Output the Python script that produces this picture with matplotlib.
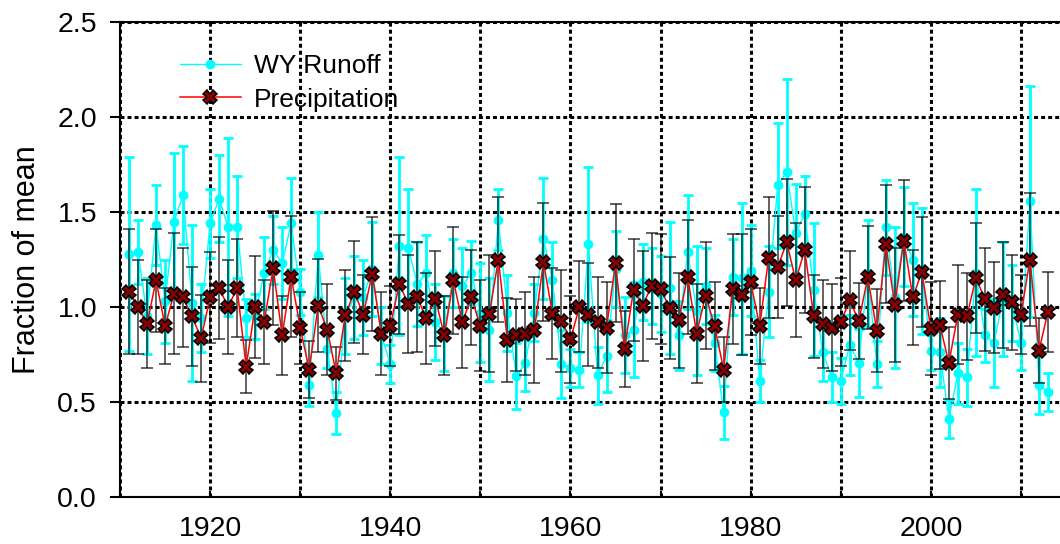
"""Runoff vs precipitation, fraction of mean, with error bars."""

import matplotlib
matplotlib.use("Agg")
import matplotlib.pyplot as plt

plt.rcParams["font.family"] = ["Liberation Sans", "DejaVu Sans"]

years = list(range(1911, 2014))

precip = [1.08, 1.00, 0.91, 1.14, 0.90, 1.07, 1.05, 0.95, 0.835, 1.05,
          1.10, 1.00, 1.10, 0.686, 1.00, 0.92, 1.205, 0.85, 1.16, 0.89,
          0.67, 1.007, 0.88, 0.65, 0.955, 1.08, 0.96, 1.175, 0.86, 0.90,
          1.12, 1.016, 1.05, 0.94, 1.044, 0.85, 1.14, 0.92, 1.05, 0.90,
          0.965, 1.25, 0.825, 0.85, 0.86, 0.88, 1.237, 0.965, 0.925, 0.83,
          1.00, 0.96, 0.92, 0.89, 1.23, 0.78, 1.09, 1.007, 1.11, 1.095,
          0.995, 0.93, 1.16, 0.86, 1.06, 0.90, 0.67, 1.095, 1.065, 1.13,
          0.90, 1.26, 1.21, 1.34, 1.14, 1.30, 0.95, 0.91, 0.89, 0.92,
          1.035, 0.925, 1.156, 0.875, 1.33, 1.01, 1.35, 1.05, 1.186, 0.884,
          0.905, 0.705, 0.96, 0.95, 1.154, 1.04, 0.995, 1.063, 1.025, 0.96,
          1.25, 0.77, 0.974]
precip_err = [0.33, 0.25, 0.23, 0.27, 0.20, 0.32, 0.26, 0.26, 0.23, 0.24,
              0.27, 0.25, 0.26, 0.14, 0.27, 0.22, 0.30, 0.21, 0.32, 0.19,
              0.15, 0.245, 0.24, 0.14, 0.24, 0.27, 0.21, 0.30, 0.22, 0.21,
              0.26, 0.26, 0.29, 0.24, 0.25, 0.21, 0.28, 0.24, 0.25, 0.24,
              0.31, 0.33, 0.22, 0.19, 0.22, 0.28, 0.31, 0.24, 0.27, 0.23,
              0.24, 0.27, 0.24, 0.24, 0.31, 0.20, 0.27, 0.29, 0.28, 0.29,
              0.27, 0.25, 0.30, 0.26, 0.28, 0.23, 0.17, 0.29, 0.32, 0.28,
              0.20, 0.32, 0.27, 0.335, 0.30, 0.33, 0.22, 0.23, 0.23, 0.23,
              0.26, 0.20, 0.27, 0.22, 0.31, 0.30, 0.32, 0.25, 0.29, 0.245,
              0.23, 0.19, 0.26, 0.23, 0.29, 0.27, 0.24, 0.28, 0.25, 0.21,
              0.35, 0.17, 0.21]

runoff = [1.28, 1.29, 0.95, 1.43, 1.03, 1.45, 1.59, 1.02, 0.94, 1.44,
          1.57, 1.42, 1.42, 0.94, 0.95, 1.18, 1.30, 1.23, 1.44, 1.08,
          0.59, 1.275, 0.78, 0.44, 0.95, 1.05, 1.05, 1.20, 0.85, 0.70,
          1.32, 1.31, 1.12, 1.18, 0.92, 0.86, 1.18, 1.11, 1.18, 0.97,
          0.88, 1.46, 0.97, 0.635, 0.705, 0.97, 1.36, 1.14, 0.70, 0.68,
          0.67, 1.33, 0.64, 0.74, 1.20, 0.85, 0.88, 1.13, 1.11, 1.07,
          1.10, 0.85, 1.29, 0.98, 1.11, 0.81, 0.445, 1.16, 1.15, 1.19,
          0.61, 1.08, 1.64, 1.71, 1.39, 1.49, 1.09, 0.76, 0.63, 0.61,
          0.80, 0.705, 1.18, 0.70, 1.42, 1.05, 1.37, 1.25, 1.19, 0.77,
          0.76, 0.41, 0.65, 0.63, 1.18, 0.85, 0.81, 1.04, 1.02, 0.81,
          1.556, 0.59, 0.55]
runoff_err = [0.51, 0.17, 0.20, 0.21, 0.22, 0.36, 0.26, 0.41, 0.18, 0.18,
              0.23, 0.47, 0.27, 0.10, 0.12, 0.19, 0.18, 0.19, 0.24, 0.12,
              0.11, 0.225, 0.10, 0.11, 0.20, 0.22, 0.20, 0.25, 0.15, 0.10,
              0.47, 0.31, 0.22, 0.20, 0.20, 0.20, 0.18, 0.20, 0.17, 0.26,
              0.27, 0.16, 0.20, 0.175, 0.15, 0.15, 0.32, 0.20, 0.18, 0.10,
              0.09, 0.41, 0.15, 0.19, 0.20, 0.20, 0.25, 0.20, 0.20, 0.20,
              0.35, 0.18, 0.30, 0.34, 0.20, 0.15, 0.14, 0.20, 0.40, 0.24,
              0.11, 0.24, 0.33, 0.49, 0.26, 0.20, 0.35, 0.15, 0.13, 0.12,
              0.16, 0.18, 0.28, 0.12, 0.25, 0.37, 0.26, 0.30, 0.33, 0.10,
              0.18, 0.10, 0.16, 0.15, 0.44, 0.14, 0.23, 0.30, 0.20, 0.14,
              0.61, 0.155, 0.10]

xticks = list(range(1910, 2020, 10))
xticklabels = [str(t) if t % 20 == 0 else "" for t in xticks]
yticks = [0.0, 0.5, 1.0, 1.5, 2.0, 2.5]

fig = plt.figure(figsize=(10.6, 5.44), dpi=100)
ax = fig.add_axes([120 / 1060, 47.3 / 544, 946 / 1060, 474.4 / 544])

# runoff first, precipitation bars drawn over it
r = ax.errorbar(years, runoff, yerr=runoff_err, color="cyan", marker="o", ms=6,
                lw=1, elinewidth=2, capsize=3.6, capthick=2, zorder=2)
ax.errorbar(years, precip, yerr=precip_err, fmt="none", ecolor="black",
            elinewidth=1.1, capsize=4, capthick=1.1, alpha=0.78, zorder=3)
p, = ax.plot(years, precip, color="red", lw=1.1, marker="X", ms=10,
             mfc="#8b0000", mec="black", mew=1.1, zorder=4)

ax.set_xlim(1910, 2015)
ax.set_ylim(0, 2.5)
ax.set_xticks(xticks)
ax.set_xticklabels(xticklabels)
ax.set_yticks(yticks)
ax.set_yticklabels([f"{v:.1f}" for v in yticks])
ax.tick_params(axis="x", direction="in", length=4, width=1.5, pad=14, labelsize=20.5)
ax.tick_params(axis="y", direction="out", length=7.5, width=1.5, pad=9, labelsize=20.5)
ax.grid(True, color="black", linestyle=(0, (1.3, 1.0)), linewidth=2.2)
ax.set_axisbelow(True)
for spine in ax.spines.values():
    spine.set_linewidth(1.5)

ax.set_ylabel("Fraction of mean", fontsize=22, labelpad=11)

ax.legend([r.lines[0], p], ["WY Runoff", "Precipitation"], loc="upper left",
          bbox_to_anchor=(180 / 1060, 1 - 54 / 544), bbox_transform=fig.transFigure,
          frameon=False, fontsize=19, handlelength=2.3, handletextpad=0.5,
          borderpad=0, borderaxespad=0, labelspacing=0.36)

fig.savefig("out.png", dpi=100)
plt.close(fig)
